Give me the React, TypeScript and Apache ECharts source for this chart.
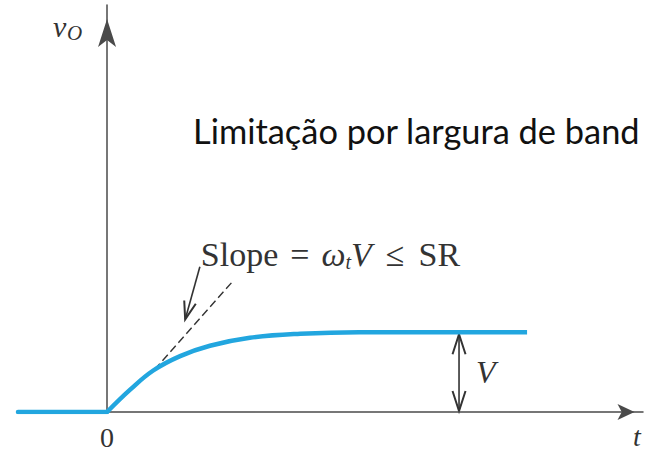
import React, { useEffect, useRef } from "react";
import * as echarts from "echarts";

// Step response of a bandwidth-limited amplifier: v_O rises towards V
const inputTime = [-2.12, 0];
const inputValues = [0, 0];
const responseTime = [0, 0.55, 1.1, 1.74, 2.45, 3.4, 4.6, 6.0, 10];
const responseValues = [0, 0.28, 0.52, 0.7, 0.83, 0.93, 0.98, 1, 1];
// dashed initial-slope line (slope = ω_t V)
const tangentTime = [1.13, 2.98];
const tangentValue = [0.53, 1.63];
const finalValue = 1; // V
const timeRange = [-2.12, 12.76];
const outputRange = [0, 5.1];
const originLabel = "0";
const timeAxisName = "t";
const outputAxisName = ["v", "O"];
const stepLabel = "V";
const heading = "Limitação por largura de band";

// where the annotations sit, in axis units
const stepArrowTime = 8.38;
const slopeArrowFrom = [2.21, 1.82];
const slopeArrowTo = [1.86, 1.16];

const SERIF = "'Liberation Serif', 'DejaVu Serif', serif";
const INK = "#333333";

function barbs(tip: number[], from: number[], len: number, spread: number) {
  const dx = tip[0] - from[0];
  const dy = tip[1] - from[1];
  const l = Math.hypot(dx, dy);
  const ux = dx / l;
  const uy = dy / l;
  const bx = tip[0] - ux * len;
  const by = tip[1] - uy * len;
  return [
    [bx - uy * spread, by + ux * spread],
    tip,
    [bx + uy * spread, by - ux * spread],
  ];
}

export default function App() {
  const ref = useRef<HTMLDivElement>(null);

  useEffect(() => {
    const el = ref.current!;
    const chart = echarts.init(el, null, { renderer: "svg" });
    const axisColor = "#4a4a4a";
    const blue = "#22a6df";

    chart.setOption({
      animation: false,
      grid: { left: 18, right: 3, top: 5, bottom: 40 },
      xAxis: {
        type: "value",
        min: timeRange[0],
        max: timeRange[1],
        axisLine: {
          onZero: true,
          lineStyle: { color: axisColor, width: 1.5 },
          symbol: ["none", "arrow"],
          symbolSize: [12, 17],
          symbolOffset: [0, -8.5],
        },
        axisTick: { show: false },
        axisLabel: { show: false },
        splitLine: { show: false },
      },
      yAxis: {
        type: "value",
        min: outputRange[0],
        max: outputRange[1],
        axisLine: {
          onZero: true,
          lineStyle: { color: axisColor, width: 1.5 },
          symbol: ["none", "arrow"],
          symbolSize: [13.5, 28],
          symbolOffset: [0, -14],
        },
        axisTick: { show: false },
        axisLabel: { show: false },
        splitLine: { show: false },
      },
      series: [
        {
          type: "line",
          data: inputTime.map((t, i) => [t, inputValues[i]]),
          showSymbol: false,
          lineStyle: { color: blue, width: 4.5, cap: "round" },
          z: 4,
        },
        {
          type: "line",
          data: responseTime.map((t, i) => [t, responseValues[i]]),
          showSymbol: false,
          smooth: 0.4,
          lineStyle: { color: blue, width: 4.5 },
          z: 4,
        },
        {
          type: "line",
          data: tangentTime.map((t, i) => [t, tangentValue[i]]),
          showSymbol: false,
          lineStyle: { color: INK, width: 1.4, type: [8, 4] },
          z: 3,
        },
      ],
    });

    const px = (p: number[]) => chart.convertToPixel({ gridIndex: 0 }, p) as number[];

    const vTop = px([stepArrowTime, finalValue]);
    const vBot = px([stepArrowTime, 0]);
    vTop[1] += 2;
    vBot[1] -= 1;
    const sFrom = px(slopeArrowFrom);
    const sTo = px(slopeArrowTo);
    const origin = px([0, 0]);
    const tEnd = px([timeRange[1], 0]);
    const yTop = px([0, outputRange[1]]);

    const stroke = { stroke: INK, lineWidth: 2, fill: "none" };
    const eqBase = { fontFamily: SERIF, fontSize: 34, fill: INK, verticalAlign: "middle" };

    const graphic: any[] = [
      // double arrow marking the final value V
      { type: "line", shape: { x1: vTop[0], y1: vTop[1], x2: vBot[0], y2: vBot[1] }, style: { stroke: INK, lineWidth: 1.6 } },
      { type: "polyline", shape: { points: barbs(vTop, vBot, 20, 6.5) }, style: stroke },
      { type: "polyline", shape: { points: barbs(vBot, vTop, 20, 6.5) }, style: stroke },
      // arrow pointing at the initial slope
      { type: "line", shape: { x1: sFrom[0], y1: sFrom[1], x2: sTo[0], y2: sTo[1] }, style: { stroke: INK, lineWidth: 1.6 } },
      { type: "polyline", shape: { points: barbs(sTo, sFrom, 18, 6) }, style: stroke },
      // labels
      {
        type: "text",
        x: sFrom[0] + 1,
        y: sFrom[1] - 12,
        style: {
          text: "{a|Slope}{e|=}{i|ω}{s|t}{i|V}{l|≤}{a|SR}",
          fill: INK,
          verticalAlign: "middle",
          rich: {
            a: { ...eqBase },
            e: { ...eqBase, padding: [0, 12, 0, 12] },
            l: { ...eqBase, padding: [0, 14, 0, 14] },
            i: { ...eqBase, fontStyle: "italic" },
            s: { ...eqBase, fontSize: 20, fontStyle: "italic", verticalAlign: "bottom" },
          },
        },
      },
      {
        type: "text",
        x: vTop[0] + 17,
        y: (vTop[1] + vBot[1]) / 2 - 1,
        style: { text: stepLabel, fontFamily: SERIF, fontSize: 32, fontStyle: "italic", fill: INK, verticalAlign: "middle" },
      },
      {
        type: "text",
        x: origin[0],
        y: origin[1] + 25,
        style: { text: originLabel, fontFamily: SERIF, fontSize: 28, fill: INK, align: "center", verticalAlign: "middle" },
      },
      {
        type: "text",
        x: tEnd[0] - 10,
        y: tEnd[1] + 24,
        style: { text: timeAxisName, fontFamily: SERIF, fontSize: 28, fontStyle: "italic", fill: INK, verticalAlign: "middle" },
      },
      {
        type: "text",
        x: yTop[0] - 54,
        y: yTop[1] + 21,
        style: { text: outputAxisName[0], fontFamily: SERIF, fontSize: 30, fontStyle: "italic", fill: INK, verticalAlign: "middle" },
      },
      {
        type: "text",
        x: yTop[0] - 40,
        y: yTop[1] + 28,
        style: { text: outputAxisName[1], fontFamily: SERIF, fontSize: 21, fontStyle: "italic", fill: INK, verticalAlign: "middle" },
      },
      {
        type: "text",
        x: 193,
        y: 130,
        style: { text: heading, fontFamily: "Lato, 'Open Sans', sans-serif", fontSize: 34.4, fill: "#111111", verticalAlign: "middle" },
      },
    ];

    chart.setOption({ graphic });

    return () => chart.dispose();
  }, []);

  return (
    <div
      ref={ref}
      style={{ position: "fixed", left: 0, top: 0, width: 646, height: 452, background: "#ffffff" }}
    />
  );
}
